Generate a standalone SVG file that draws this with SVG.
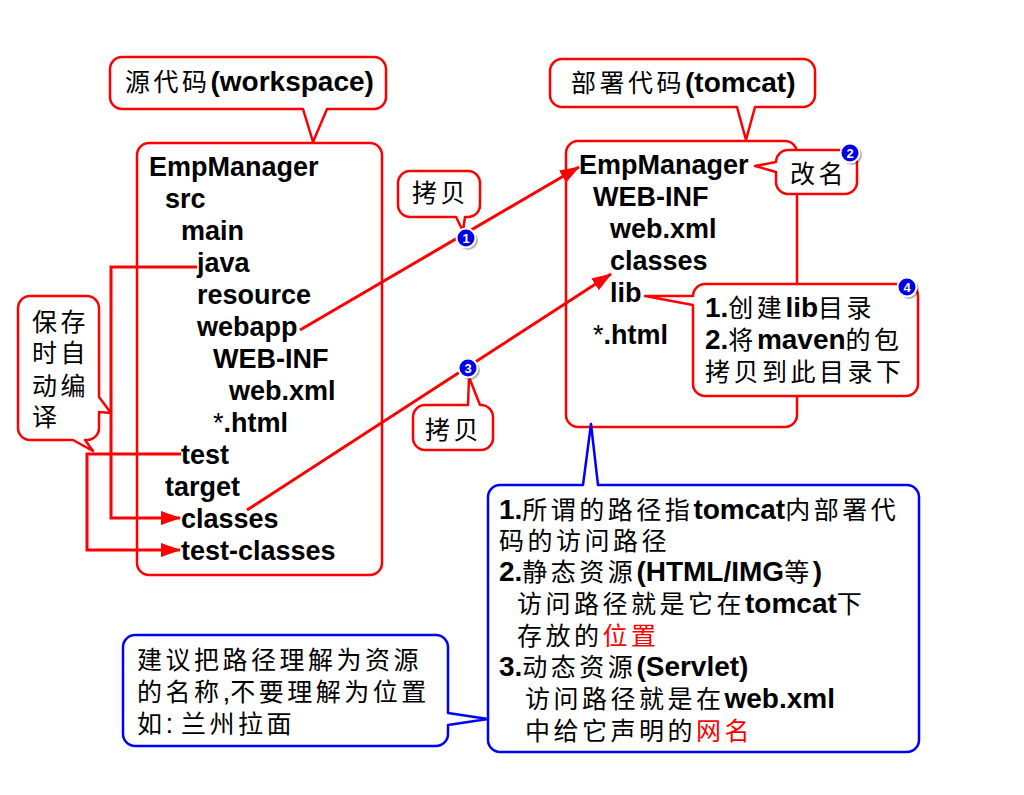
<svg xmlns="http://www.w3.org/2000/svg" width="1024" height="795" viewBox="0 0 1024 795">
<style>
.box{fill:#fff;stroke:#f00;stroke-width:2.5;stroke-linejoin:round}
.bbox{fill:#fff;stroke:#00f;stroke-width:2.5;stroke-linejoin:round}
.con{fill:none;stroke:#f00;stroke-width:3}
.tree{font-family:"Liberation Sans",Arial,sans-serif;font-size:27px;font-weight:bold;fill:#000}
.m{font-family:"Liberation Sans","Noto Sans CJK SC",sans-serif;font-size:28px;font-weight:bold;fill:#000}
.cj{font-family:"Noto Sans CJK SC",sans-serif;font-size:25px;font-weight:normal;letter-spacing:3.5px}
.rg{font-weight:normal}
.red{fill:#f00}
.bd{fill:#0000e6;stroke:#fff;stroke-width:2}
.bs{fill:#000;opacity:0.3}
.bn{font-family:"Liberation Sans",Arial,sans-serif;font-size:13px;font-weight:bold;fill:#fff;text-anchor:middle}
</style>
<defs>
<marker id="ah" markerUnits="userSpaceOnUse" markerWidth="20" markerHeight="14" refX="19" refY="7" orient="auto">
<path d="M0,0 L20,7 L0,14 Z" fill="#f00"/>
</marker>
</defs>
<rect width="1024" height="795" fill="#fff"/>

<g id="src-box">
<rect class="box" x="137" y="143" width="245" height="432" rx="12"/>
<text class="tree" x="149" y="176">EmpManager</text>
<text class="tree" x="165" y="208">src</text>
<text class="tree" x="181" y="240">main</text>
<text class="tree" x="197" y="272">java</text>
<text class="tree" x="197" y="304">resource</text>
<text class="tree" x="197" y="336">webapp</text>
<text class="tree" x="213" y="368">WEB-INF</text>
<text class="tree" x="229" y="400">web.xml</text>
<text class="tree" x="213" y="432"><tspan class="rg">*</tspan>.html</text>
<text class="tree" x="181" y="464">test</text>
<text class="tree" x="165" y="496">target</text>
<text class="tree" x="181" y="528">classes</text>
<text class="tree" x="181" y="560">test-classes</text>
</g>

<g id="dst-box">
<rect class="box" x="566" y="141" width="231" height="286" rx="12"/>
<text class="tree" x="579" y="174">EmpManager</text>
<text class="tree" x="593" y="206">WEB-INF</text>
<text class="tree" x="610" y="238">web.xml</text>
<text class="tree" x="610" y="270">classes</text>
<text class="tree" x="610" y="302">lib</text>
<text class="tree" x="593" y="344"><tspan class="rg">*</tspan>.html</text>
</g>

<g id="connectors">
<line class="con" x1="300" y1="330" x2="579" y2="167" marker-end="url(#ah)"/>
<line class="con" x1="247" y1="510" x2="611" y2="274" marker-end="url(#ah)"/>
<polyline class="con" points="197,267 111,267 111,518 180,518" marker-end="url(#ah)"/>
<polyline class="con" points="181,454 87,454 87,550 180,550" marker-end="url(#ah)"/>
</g>

<g id="callout-workspace">
<path class="box" d="M122,57 H374 A12,12 0 0 1 386,69 V97 A12,12 0 0 1 374,109 H327 L313,142 L303,109 H122 A12,12 0 0 1 110,97 V69 A12,12 0 0 1 122,57 Z"/>
<text class="m" x="125" y="91"><tspan class="cj">源代码</tspan>(workspace)</text>
</g>

<g id="callout-tomcat">
<path class="box" d="M562,59 H803 A12,12 0 0 1 815,71 V95 A12,12 0 0 1 803,107 H755 L746,140 L737,107 H562 A12,12 0 0 1 550,95 V71 A12,12 0 0 1 562,59 Z"/>
<text class="m" x="571" y="92"><tspan class="cj">部署代码</tspan>(tomcat)</text>
</g>

<g id="callout-copy1">
<path class="box" d="M410,171 H468 A12,12 0 0 1 480,183 V205 A12,12 0 0 1 468,217 H465 L463,231 L456,217 H410 A12,12 0 0 1 398,205 V183 A12,12 0 0 1 410,171 Z"/>
<text class="m" x="412" y="202"><tspan class="cj">拷贝</tspan></text>
</g>

<g id="callout-copy3">
<path class="box" d="M425,405 H468 L469,377 L480,405 H481 A12,12 0 0 1 493,417 V438 A12,12 0 0 1 481,450 H425 A12,12 0 0 1 413,438 V417 A12,12 0 0 1 425,405 Z"/>
<text class="m" x="425" y="439"><tspan class="cj">拷贝</tspan></text>
</g>

<g id="callout-compile">
<path class="box" d="M30,296 H87 A12,12 0 0 1 99,308 V397 L111,413 L99,412 V428 A12,12 0 0 1 87,440 H85 L93,451 L73,440 H30 A12,12 0 0 1 18,428 V308 A12,12 0 0 1 30,296 Z"/>
<text class="m"><tspan class="cj" x="32" y="331">保存</tspan><tspan class="cj" x="32" y="362">时自</tspan><tspan class="cj" x="32" y="395">动编</tspan><tspan class="cj" x="32" y="426">译</tspan></text>
</g>

<g id="callout-rename">
<path class="box" d="M788,150 H845 A12,12 0 0 1 857,162 V182 A12,12 0 0 1 845,194 H788 A12,12 0 0 1 776,182 V172 L755,166 L776,162 A12,12 0 0 1 788,150 Z"/>
<text class="m" x="790" y="183"><tspan class="cj">改名</tspan></text>
</g>

<g id="callout-lib">
<path class="box" d="M705,284 H906 A12,12 0 0 1 918,296 V384 A12,12 0 0 1 906,396 H705 A12,12 0 0 1 693,384 V305 L645,296 L693,296 A12,12 0 0 1 705,284 Z"/>
<text class="m"><tspan x="705" y="317">1.<tspan class="cj">创建</tspan>lib<tspan class="cj">目录</tspan></tspan><tspan x="705" y="349">2.<tspan class="cj">将</tspan>maven<tspan class="cj">的包</tspan></tspan><tspan x="705" y="381" class="cj">拷贝到此目录下</tspan></text>
</g>

<g id="note-path">
<path class="bbox" d="M500,485 H583 L591,424 L598,485 H907 A12,12 0 0 1 919,497 V740 A12,12 0 0 1 907,752 H500 A12,12 0 0 1 488,740 V497 A12,12 0 0 1 500,485 Z"/>
<text class="m"><tspan x="499" y="519">1.<tspan class="cj">所谓的路径指</tspan>tomcat<tspan class="cj">内部署代</tspan></tspan><tspan x="499" y="550" class="cj">码的访问路径</tspan><tspan x="499" y="581">2.<tspan class="cj">静态资源</tspan>(HTML/IMG<tspan class="cj">等</tspan>)</tspan><tspan x="517" y="613"><tspan class="cj">访问路径就是它在</tspan>tomcat<tspan class="cj">下</tspan></tspan><tspan x="517" y="645"><tspan class="cj">存放的</tspan><tspan class="cj red">位置</tspan></tspan><tspan x="499" y="676">3.<tspan class="cj">动态资源</tspan>(Servlet)</tspan><tspan x="525" y="708"><tspan class="cj">访问路径就是在</tspan>web.xml</tspan><tspan x="525" y="740"><tspan class="cj">中给它声明的</tspan><tspan class="cj red">网名</tspan></tspan></text>
</g>

<g id="note-name">
<path class="bbox" d="M135,635 H436 A12,12 0 0 1 448,647 V713 L488,719 L448,725 V734 A12,12 0 0 1 436,746 H135 A12,12 0 0 1 123,734 V647 A12,12 0 0 1 135,635 Z"/>
<text class="m rg"><tspan x="137" y="669" class="cj">建议把路径理解为资源</tspan><tspan x="137" y="701"><tspan class="cj">的名称</tspan>,<tspan class="cj">不要理解为位置</tspan></tspan><tspan x="137" y="733"><tspan class="cj">如</tspan>: <tspan class="cj">兰州拉面</tspan></tspan></text>
</g>

<g id="badge-1">
<circle class="bs" cx="468" cy="240" r="10"/>
<circle class="bd" cx="466" cy="238" r="9.5"/>
<text class="bn" x="466" y="242.5">1</text>
</g>
<g id="badge-2">
<circle class="bs" cx="852" cy="155" r="10"/>
<circle class="bd" cx="850" cy="153" r="9.5"/>
<text class="bn" x="850" y="157.5">2</text>
</g>
<g id="badge-3">
<circle class="bs" cx="470" cy="370" r="10"/>
<circle class="bd" cx="468" cy="368" r="9.5"/>
<text class="bn" x="468" y="372.5">3</text>
</g>
<g id="badge-4">
<circle class="bs" cx="909" cy="289" r="10"/>
<circle class="bd" cx="907" cy="287" r="9.5"/>
<text class="bn" x="907" y="291.5">4</text>
</g>
</svg>
